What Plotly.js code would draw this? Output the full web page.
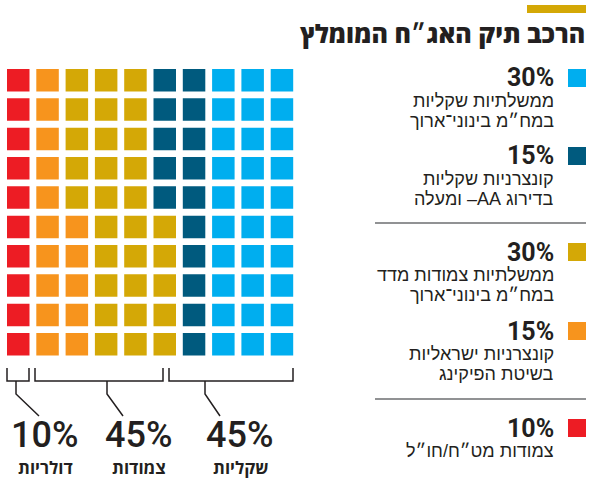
<!DOCTYPE html>
<html><head><meta charset="utf-8">
<script src="https://cdn.plot.ly/plotly-3.0.1.min.js"></script>
<style>html,body{margin:0;padding:0;background:#fff}#chart{width:590px;height:485px}</style>
</head><body><div id="chart"></div>
<script>
// ---- data ----
const categories = ['צמודות מט״ח/חו״ל', 'קונצרניות ישראליות בשיטת הפיקינג', 'ממשלתיות צמודות מדד במח״מ בינוני־ארוך', 'קונצרניות שקליות בדירוג AA– ומעלה', 'ממשלתיות שקליות במח״מ בינוני־ארוך'];
const shares = [10, 15, 30, 15, 30];
const colors = ['#ED1C24', '#F7941D', '#D4A806', '#005A7E', '#00AEEF'];
const legendLines = [
  ['צמודות מט״ח/חו״ל'],
  ['קונצרניות ישראליות', 'בשיטת הפיקינג'],
  ['ממשלתיות צמודות מדד', 'במח״מ בינוני־ארוך'],
  ['קונצרניות שקליות', 'בדירוג AA– ומעלה'],
  ['ממשלתיות שקליות', 'במח״מ בינוני־ארוך']
];
const groupValues = ['10%', '45%', '45%'];
const groupLabels = ['דולריות', 'צמודות', 'שקליות'];
const title = 'הרכב תיק האג״ח המומלץ';
const gridRows = 10;

// ---- helpers ----
const W = 590, H = 485;
const X = p => p / W, Y = p => 1 - p / H;
const rtl = s => '\u202B' + s + '\u202C';   // right-to-left embedding
const HEB = 'Liberation Sans, Open Sans, DejaVu Sans, sans-serif';
const HEBB = 'Open Sans, Liberation Sans, DejaVu Sans, sans-serif';

// waffle cells: fill column by column, bottom to top
const traces = [];
let idx = 0;
shares.forEach((s, k) => {
  const xs = [], ys = [];
  for (let j = 0; j < s; j++, idx++) {
    xs.push(Math.floor(idx / gridRows));
    ys.push(idx % gridRows);
  }
  traces.push({
    type: 'scatter', mode: 'markers', x: xs, y: ys, name: categories[k],
    marker: {symbol: 'square', size: 22.5, color: colors[k], line: {width: 0}},
    hoverinfo: 'name', showlegend: false
  });
});

const shapes = [], annotations = [];
// title bar + title
shapes.push({type: 'rect', xref: 'paper', yref: 'paper', x0: X(527), x1: X(586), y0: Y(13), y1: Y(5), fillcolor: colors[2], line: {width: 0}});
annotations.push({xref: 'paper', yref: 'paper', x: X(587), y: Y(33), xanchor: 'right', yanchor: 'middle', showarrow: false,
  text: rtl(title), font: {family: HEBB, size: 25, color: '#231F20', weight: 800}});

// legend (top to bottom = reverse order of categories)
const legendTops = [69, 147, 243, 322, 419];
const order = [4, 3, 2, 1, 0];
order.forEach((k, i) => {
  const t = legendTops[i];
  shapes.push({type: 'rect', xref: 'paper', yref: 'paper', x0: X(568), x1: X(586), y0: Y(t + 18), y1: Y(t), fillcolor: colors[k], line: {width: 0}});
  annotations.push({xref: 'paper', yref: 'paper', x: X(556), y: Y(t + 9), xanchor: 'right', yanchor: 'middle', showarrow: false,
    text: shares[k] + '%', font: {family: 'Roboto, sans-serif', size: 25, color: '#231F20', weight: 700}});
  legendLines[k].forEach((ln, j) => {
    annotations.push({xref: 'paper', yref: 'paper', x: X(556), y: Y(t + 32 + j * 20), xanchor: 'right', yanchor: 'middle', showarrow: false,
      text: rtl(ln), font: {family: HEB, size: 18, color: '#231F20'}});
  });
});
// separators
[223, 399].forEach(y => shapes.push({type: 'line', xref: 'paper', yref: 'paper', x0: X(375), x1: X(586), y0: Y(y), y1: Y(y), line: {color: '#6d6e71', width: 1.5}}));

// brackets
const brackets = [[7, 29, 16, 39], [35, 163, 107, 123], [169, 293, 205, 220]];
const bTop = 368, bBot = 381, knee = 394, tip = 416;
const lc = {color: '#231F20', width: 1.5};
brackets.forEach(([a, b, s, e]) => {
  shapes.push({type: 'path', xref: 'paper', yref: 'paper',
    path: `M${X(a)},${Y(bTop)} L${X(a)},${Y(bBot)} L${X(b)},${Y(bBot)} L${X(b)},${Y(bTop)}`, line: lc});
  shapes.push({type: 'path', xref: 'paper', yref: 'paper',
    path: `M${X(s)},${Y(bBot)} L${X(s)},${Y(knee)} L${X(e)},${Y(tip)}`, line: lc});
});
const groupCenters = [44, 138, 239];
groupValues.forEach((v, i) => {
  annotations.push({xref: 'paper', yref: 'paper', x: X(groupCenters[i]), y: Y(435), xanchor: 'center', yanchor: 'middle', showarrow: false,
    text: v, font: {family: 'Roboto, sans-serif', size: 36, color: '#231F20', weight: 500}});
  annotations.push({xref: 'paper', yref: 'paper', x: X(groupCenters[i] + 1), y: Y(467), xanchor: 'center', yanchor: 'middle', showarrow: false,
    text: rtl(groupLabels[i]), font: {family: HEBB, size: 17, color: '#231F20', weight: 700}});
});

const layout = {
  width: W, height: H, margin: {l: 0, r: 0, t: 0, b: 0},
  paper_bgcolor: '#fff', plot_bgcolor: 'rgba(0,0,0,0)',
  xaxis: {range: [-0.5, 9.5], domain: [3.6 / W, 296.6 / W], visible: false, fixedrange: true},
  yaxis: {range: [-0.5, 9.5], domain: [Y(358.9), Y(65.6)], visible: false, fixedrange: true},
  shapes, annotations, showlegend: false
};
Plotly.newPlot('chart', traces, layout, {displayModeBar: false, staticPlot: true});
</script></body></html>
